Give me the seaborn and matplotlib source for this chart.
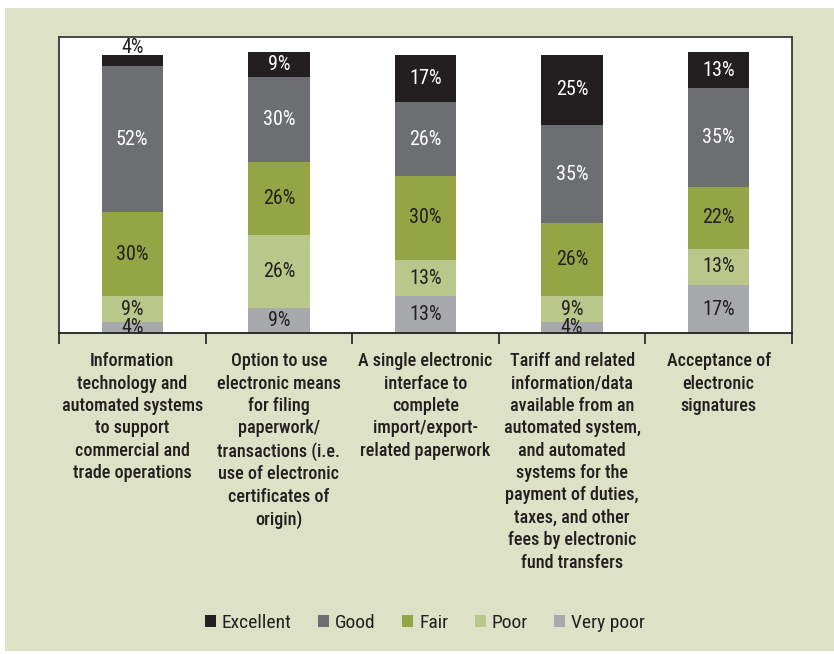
import matplotlib
matplotlib.use("Agg")
import matplotlib.pyplot as plt
from matplotlib.patches import Rectangle, Patch
from matplotlib import font_manager
import seaborn as sns
import pandas as pd
import numpy as np

categories = [
    "Information\ntechnology and\nautomated systems\nto support\ncommercial and\ntrade operations",
    "Option to use\nelectronic means\nfor filing\npaperwork/\ntransactions (i.e.\nuse of electronic\ncertificates of\norigin)",
    "A single electronic\ninterface to\ncomplete\nimport/export-\nrelated paperwork",
    "Tariff and related\ninformation/data\navailable from an\nautomated system,\nand automated\nsystems for the\npayment of duties,\ntaxes, and other\nfees by electronic\nfund transfers",
    "Acceptance of\nelectronic\nsignatures",
]
ratings = ["Excellent", "Good", "Fair", "Poor", "Very poor"]

excellent = [4, 9, 17, 25, 13]
good = [52, 30, 26, 35, 35]
fair = [30, 26, 30, 26, 22]
poor = [9, 26, 13, 9, 13]
very_poor = [4, 9, 13, 4, 17]

colors = {
    "Excellent": "#231f20",
    "Good": "#6d6e71",
    "Fair": "#94a545",
    "Poor": "#bac78a",
    "Very poor": "#a8a9ad",
}
label_colors = {
    "Excellent": "white",
    "Good": "white",
    "Fair": "#231f20",
    "Poor": "#231f20",
    "Very poor": "#231f20",
}

sns.set_style("white")
installed = {f.name for f in font_manager.fontManager.ttflist}
narrow = None
for cand in ["Liberation Sans Narrow", "Roboto Condensed", "Open Sans Condensed",
             "Arial Narrow", "DejaVu Sans Condensed"]:
    if cand in installed:
        narrow = cand
        break
if narrow is None:
    narrow = "Liberation Sans"
plt.rcParams["font.family"] = [narrow, "DejaVu Sans"]
is_narrow = narrow != "Liberation Sans"
cat_size = 13 if is_narrow else 11.2
val_size = 14.5 if is_narrow else 12.5
leg_size = 14 if is_narrow else 12

W, H = 834, 654
fig = plt.figure(figsize=(W / 100, H / 100), dpi=100, facecolor="white")
fig.patches.append(Rectangle((5 / W, 3 / H), 1 - 5 / W, (651 - 8) / H,
                             transform=fig.transFigure, facecolor="#dde2c6",
                             edgecolor="none", zorder=-10))

ax = fig.add_axes([59 / W, 1 - 333 / H, (792 - 59) / W, (333 - 37) / H])
ax.set_facecolor("white")

# stacked from the bottom: Very poor, Poor, Fair, Good, Excellent
stack_order = ["Very poor", "Poor", "Fair", "Good", "Excellent"]
series = {"Excellent": excellent, "Good": good, "Fair": fair,
          "Poor": poor, "Very poor": very_poor}
cum = np.zeros(len(categories))
bottoms, tops = {}, {}
for r in stack_order:
    bottoms[r] = cum.copy()
    cum = cum + np.array(series[r])
    tops[r] = cum.copy()

xpos = list(range(len(categories)))
# draw cumulative totals, tallest first, so each layer shows its own segment
for r in reversed(stack_order):
    df = pd.DataFrame({"x": xpos, "y": tops[r]})
    sns.barplot(data=df, x="x", y="y", color=colors[r], saturation=1,
                width=0.42, ax=ax, order=xpos, linewidth=0, zorder=2)

for r in stack_order:
    for i in range(len(categories)):
        v = series[r][i]
        yc = (bottoms[r][i] + tops[r][i]) / 2
        col = label_colors[r]
        if r == "Excellent" and v < 5:
            yc = tops[r][i] + 2.4
            col = "#231f20"
        ax.text(i, yc, f"{v}%", ha="center", va="center", fontsize=val_size,
                color=col, zorder=3)

ax.set_xlim(-0.5, len(categories) - 0.5)
ax.set_ylim(0, 105.3)
ax.set_xlabel("")
ax.set_ylabel("")
ax.set_yticks([])

ax.set_xticks(np.arange(-0.5, len(categories)), labels=[""] * (len(categories) + 1))
ax.set_xticks(xpos, labels=categories, minor=True)
ax.tick_params(axis="x", which="major", direction="out", length=8, width=1.2,
               color="#231f20", bottom=True)
ax.tick_params(axis="x", which="minor", length=0, pad=14, labelsize=cat_size,
               labelcolor="#231f20")
for lab in ax.get_xticklabels(minor=True):
    lab.set_linespacing(1.31)
    lab.set_verticalalignment("top")
    lab.set_fontweight("medium")

for s in ["left", "top", "right"]:
    ax.spines[s].set_color("#3a3a3a")
    ax.spines[s].set_linewidth(1.3)
ax.spines["bottom"].set_color("#231f20")
ax.spines["bottom"].set_linewidth(1.3)

handles = [Patch(facecolor=colors[r], edgecolor="none", label=r) for r in ratings]
fig.legend(handles=handles, loc="center", bbox_to_anchor=(425 / W, 1 - 623 / H),
           ncol=5, frameon=False, fontsize=leg_size, handlelength=0.58,
           handleheight=0.58, handletextpad=0.3, columnspacing=1.35,
           labelcolor="#231f20")

fig.savefig("out.png", dpi=100, facecolor="white")
